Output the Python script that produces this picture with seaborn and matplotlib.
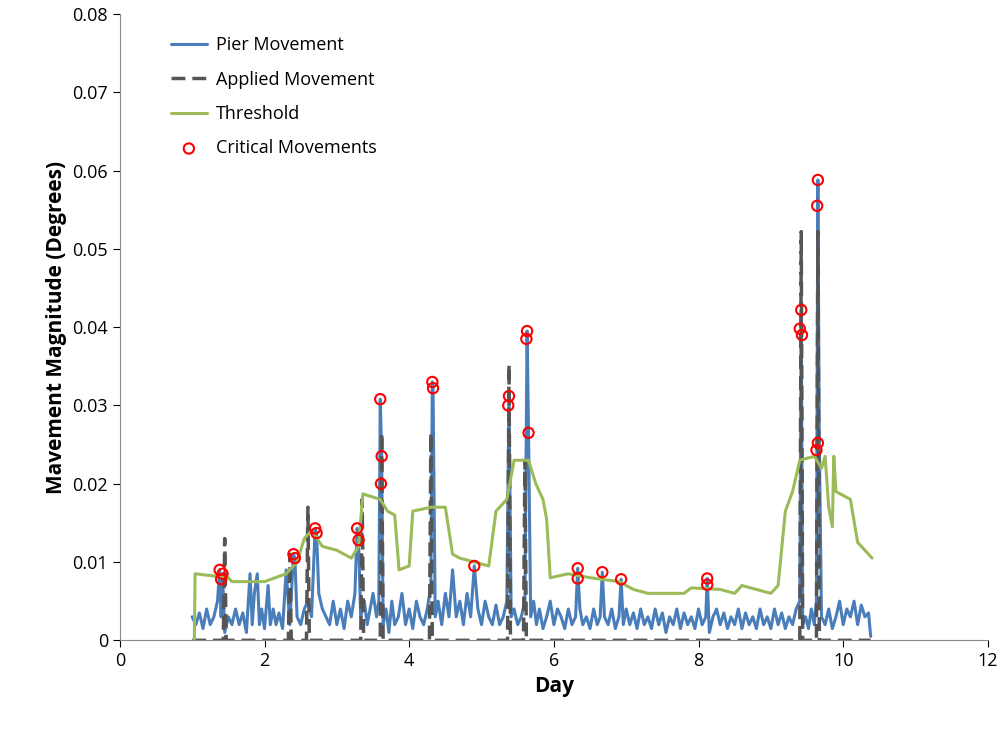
import matplotlib
matplotlib.use("Agg")
import matplotlib.pyplot as plt
import seaborn as sns
import pandas as pd

sns.set_style("white")
plt.rcParams['font.family'] = ['Open Sans', 'DejaVu Sans']
plt.rcParams['text.color'] = 'black'
plt.rcParams['axes.labelcolor'] = 'black'
plt.rcParams['xtick.color'] = 'black'
plt.rcParams['ytick.color'] = 'black'

pier_points = [
    (1.00,0.0030),(1.05,0.0020),(1.10,0.0035),(1.15,0.0015),(1.20,0.0040),(1.25,0.0020),(1.30,0.0030),
    (1.35,0.0050),(1.38,0.0090),(1.40,0.0030),(1.42,0.0085),(1.45,0.0010),(1.50,0.0030),(1.55,0.0020),
    (1.60,0.0040),(1.65,0.0020),(1.70,0.0035),(1.75,0.0010),(1.80,0.0085),(1.83,0.0020),(1.86,0.0060),
    (1.90,0.0085),(1.93,0.0020),(1.96,0.0040),(2.00,0.0015),(2.05,0.0070),(2.08,0.0020),(2.12,0.0040),
    (2.16,0.0020),(2.20,0.0035),(2.25,0.0015),(2.30,0.0090),(2.35,0.0020),(2.40,0.0110),(2.42,0.0105),
    (2.45,0.0030),(2.50,0.0020),(2.55,0.0040),(2.60,0.0050),(2.65,0.0030),(2.70,0.0143),(2.72,0.0137),
    (2.75,0.0060),(2.80,0.0040),(2.85,0.0030),(2.90,0.0020),(2.95,0.0050),(3.00,0.0020),(3.05,0.0040),
    (3.10,0.0015),(3.15,0.0050),(3.20,0.0030),(3.25,0.0060),(3.28,0.0143),(3.30,0.0128),(3.33,0.0030),
    (3.38,0.0050),(3.42,0.0020),(3.46,0.0040),(3.50,0.0060),(3.55,0.0030),(3.58,0.0050),(3.60,0.0308),
    (3.62,0.0235),(3.64,0.0020),(3.68,0.0040),(3.72,0.0010),(3.76,0.0050),(3.80,0.0020),(3.85,0.0030),
    (3.90,0.0060),(3.95,0.0020),(4.00,0.0040),(4.05,0.0015),(4.10,0.0050),(4.15,0.0030),(4.20,0.0020),
    (4.25,0.0040),(4.30,0.0070),(4.32,0.0330),(4.33,0.0322),(4.36,0.0030),(4.40,0.0050),(4.45,0.0020),
    (4.50,0.0060),(4.55,0.0030),(4.60,0.0090),(4.65,0.0030),(4.70,0.0050),(4.75,0.0020),(4.80,0.0060),
    (4.85,0.0030),(4.90,0.0095),(4.95,0.0040),(5.00,0.0020),(5.05,0.0050),(5.10,0.0030),(5.15,0.0020),
    (5.20,0.0045),(5.25,0.0020),(5.30,0.0030),(5.35,0.0050),(5.38,0.0312),(5.41,0.0030),(5.45,0.0040),
    (5.50,0.0020),(5.55,0.0030),(5.60,0.0050),(5.63,0.0395),(5.65,0.0265),(5.68,0.0030),(5.72,0.0050),
    (5.76,0.0020),(5.80,0.0040),(5.85,0.0015),(5.90,0.0030),(5.95,0.0050),(6.00,0.0020),(6.05,0.0040),
    (6.10,0.0030),(6.15,0.0015),(6.20,0.0040),(6.25,0.0020),(6.30,0.0030),(6.33,0.0092),(6.36,0.0040),
    (6.40,0.0020),(6.45,0.0030),(6.50,0.0015),(6.55,0.0040),(6.60,0.0020),(6.64,0.0030),(6.67,0.0087),
    (6.70,0.0030),(6.75,0.0020),(6.80,0.0040),(6.85,0.0015),(6.90,0.0030),(6.93,0.0078),(6.96,0.0020),
    (7.00,0.0040),(7.05,0.0020),(7.10,0.0035),(7.15,0.0015),(7.20,0.0040),(7.25,0.0020),(7.30,0.0030),
    (7.35,0.0015),(7.40,0.0040),(7.45,0.0020),(7.50,0.0035),(7.55,0.0010),(7.60,0.0030),(7.65,0.0020),
    (7.70,0.0040),(7.75,0.0015),(7.80,0.0035),(7.85,0.0020),(7.90,0.0030),(7.95,0.0015),(8.00,0.0040),
    (8.05,0.0020),(8.10,0.0030),(8.12,0.0079),(8.15,0.0010),(8.20,0.0030),(8.25,0.0040),(8.30,0.0020),
    (8.35,0.0035),(8.40,0.0015),(8.45,0.0030),(8.50,0.0020),(8.55,0.0040),(8.60,0.0015),(8.65,0.0035),
    (8.70,0.0020),(8.75,0.0030),(8.80,0.0015),(8.85,0.0040),(8.90,0.0020),(8.95,0.0030),(9.00,0.0015),
    (9.05,0.0040),(9.10,0.0020),(9.15,0.0035),(9.20,0.0015),(9.25,0.0030),(9.30,0.0020),(9.35,0.0040),
    (9.40,0.0050),(9.42,0.0422),(9.44,0.0020),(9.48,0.0030),(9.52,0.0015),(9.56,0.0040),(9.60,0.0020),
    (9.63,0.0050),(9.65,0.0588),(9.67,0.0252),(9.70,0.0030),(9.75,0.0020),(9.80,0.0040),(9.85,0.0015),
    (9.90,0.0030),(9.95,0.0050),(10.00,0.0020),(10.05,0.0040),(10.10,0.0030),(10.15,0.0050),(10.20,0.0020),
    (10.25,0.0045),(10.30,0.0030),(10.35,0.0035),(10.38,0.0005),
]
pier_day = [p[0] for p in pier_points]
pier_val = [p[1] for p in pier_points]

applied_day = [1.00,1.43,1.45,1.47,2.33,2.35,2.37,2.58,2.60,2.62,3.33,3.35,3.37,3.60,3.62,3.64,4.28,4.30,4.32,5.36,5.38,5.40,5.58,5.60,5.62,9.40,9.42,9.44,9.63,9.65,9.67,10.38]
applied_val = [0,0,0.0130,0,0,0.0110,0,0,0.0170,0,0,0.0180,0,0,0.0265,0,0,0.0265,0,0,0.0352,0,0,0.0230,0,0,0.0522,0,0,0.0522,0,0]

thr_day = [1.03,1.04,1.50,1.55,2.00,2.30,2.45,2.55,2.65,2.80,3.00,3.20,3.30,3.36,3.60,3.70,3.80,3.86,4.00,4.05,4.30,4.50,4.60,4.70,4.90,5.10,5.20,5.35,5.45,5.65,5.75,5.85,5.90,5.95,6.20,6.50,6.90,7.00,7.10,7.30,7.80,7.90,8.30,8.50,8.60,8.80,9.00,9.10,9.20,9.30,9.40,9.60,9.70,9.75,9.80,9.85,9.87,9.90,10.10,10.20,10.30,10.40]
thr_val = [0,0.0085,0.0080,0.0075,0.0075,0.0085,0.0100,0.0130,0.0140,0.0120,0.0115,0.0105,0.0120,0.0187,0.0180,0.0165,0.0160,0.0090,0.0095,0.0165,0.0170,0.0170,0.0110,0.0105,0.0100,0.0095,0.0165,0.0180,0.0230,0.0230,0.0200,0.0180,0.0155,0.0080,0.0085,0.0080,0.0075,0.0070,0.0065,0.0060,0.0060,0.0067,0.0065,0.0060,0.0070,0.0065,0.0060,0.0070,0.0165,0.0190,0.0230,0.0235,0.0220,0.0235,0.0170,0.0145,0.0235,0.0190,0.0180,0.0125,0.0115,0.0105]

crit_day = [1.38,1.40,1.42,2.40,2.42,2.70,2.72,3.28,3.30,3.60,3.62,3.61,4.32,4.33,5.38,5.37,5.63,5.62,5.65,4.90,6.33,6.33,6.67,6.93,8.12,8.12,9.42,9.40,9.43,9.65,9.64,9.65,9.63]
crit_val = [0.0090,0.0078,0.0085,0.0110,0.0105,0.0143,0.0137,0.0143,0.0128,0.0308,0.0235,0.0200,0.0330,0.0322,0.0312,0.0300,0.0395,0.0385,0.0265,0.0095,0.0092,0.0079,0.0087,0.0078,0.0079,0.0071,0.0422,0.0398,0.0390,0.0588,0.0555,0.0252,0.0243]

fig = plt.figure(figsize=(10.07, 7.36), dpi=100)
ax = fig.add_axes([0.119, 0.130, 0.862, 0.851])

sns.lineplot(x=pier_day, y=pier_val, sort=False, ax=ax, color='#4a7ebb', lw=2.2, label='Pier Movement')
sns.lineplot(x=applied_day, y=applied_val, sort=False, ax=ax, color='#555555', lw=2.5, dashes=False, label='Applied Movement')
ax.lines[-1].set_dashes([4, 2])
sns.lineplot(x=thr_day, y=thr_val, sort=False, ax=ax, color='#9bbb59', lw=2.2, label='Threshold')
sns.scatterplot(x=crit_day, y=crit_val, ax=ax, facecolor='none', edgecolor='red', linewidth=1.5, s=55, label='Critical Movements', zorder=5)

ax.set_xlim(0, 12)
ax.set_ylim(0, 0.08)
ax.set_xticks(range(0, 13, 2))
ax.set_yticks([0, 0.01, 0.02, 0.03, 0.04, 0.05, 0.06, 0.07, 0.08])
ax.set_yticklabels(['0', '0.01', '0.02', '0.03', '0.04', '0.05', '0.06', '0.07', '0.08'])
ax.tick_params(labelsize=13, direction='out', length=5, bottom=True, left=True)
ax.set_xlabel('Day', fontsize=15, fontweight='bold')
ax.set_ylabel('Mavement Magnitude (Degrees)', fontsize=15, fontweight='bold')
for s in ['top', 'right']:
    ax.spines[s].set_visible(False)
for s in ['left', 'bottom']:
    ax.spines[s].set_color('#888888')
ax.legend(loc='upper left', bbox_to_anchor=(0.04, 0.99), frameon=False, fontsize=13, handlelength=2.0, handletextpad=0.5, labelspacing=0.9)
fig.savefig('out.png', dpi=100)
